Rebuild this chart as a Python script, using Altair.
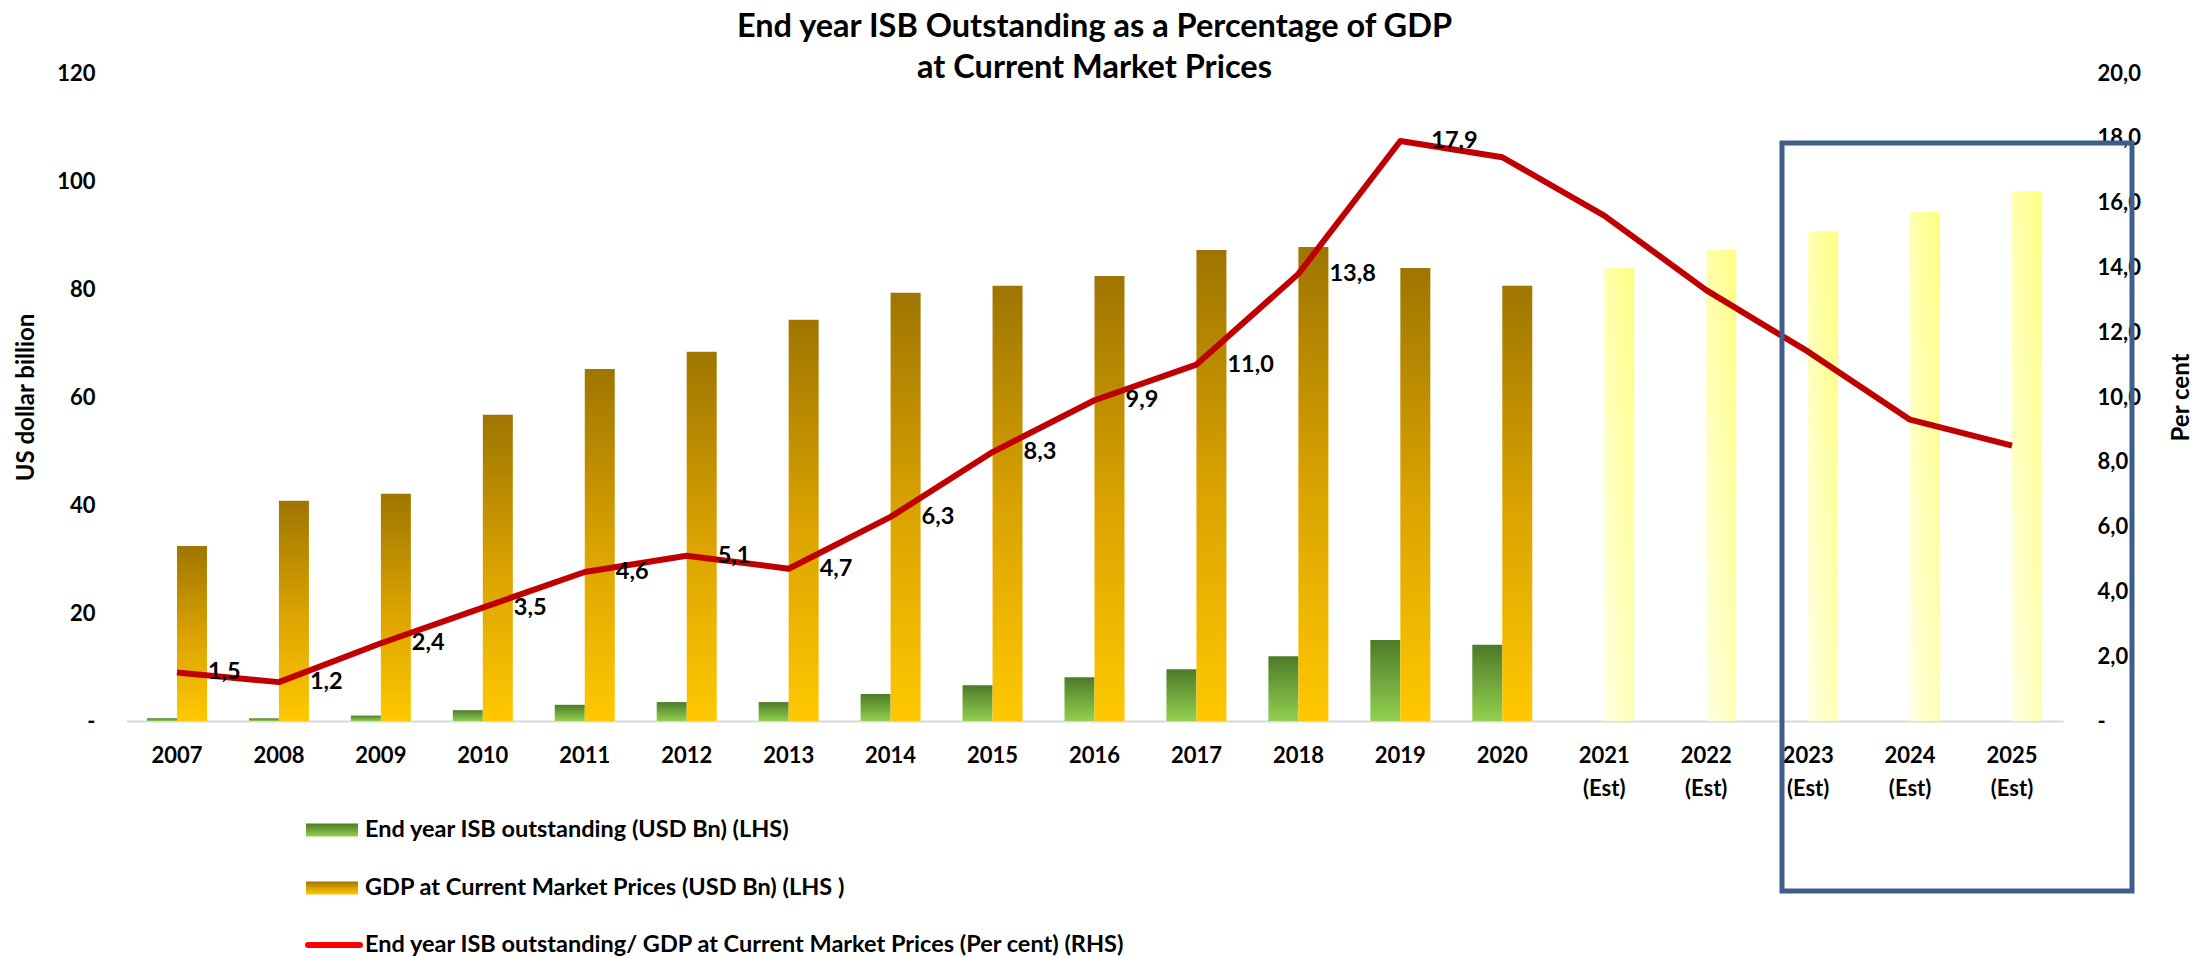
import altair as alt
import pandas as pd

# ---------------- data ----------------
YEARS = ["2007", "2008", "2009", "2010", "2011", "2012", "2013", "2014",
         "2015", "2016", "2017", "2018", "2019", "2020",
         "2021 (Est)", "2022 (Est)", "2023 (Est)", "2024 (Est)", "2025 (Est)"]
ACTUAL_YEARS = YEARS[:14]
EST_YEARS = YEARS[14:]

ISB_USD_BN = [0.5, 0.5, 1.0, 2.0, 3.0, 3.5, 3.5, 5.0, 6.6, 8.1, 9.6, 12.0, 15.0, 14.1]
GDP_USD_BN = [32.4, 40.8, 42.1, 56.7, 65.2, 68.4, 74.3, 79.3, 80.6, 82.4, 87.2, 87.8, 83.9, 80.6]
GDP_EST_USD_BN = [83.9, 87.2, 90.7, 94.3, 98.1]
ISB_PCT_GDP = [1.5, 1.2, 2.4, 3.5, 4.6, 5.1, 4.7, 6.3, 8.3, 9.9, 11.0, 13.8, 17.9,
               17.4, 15.6, 13.3, 11.4, 9.3, 8.5]
LABELLED_YEARS = YEARS[:13]

LEFT_TICKS = [0, 20, 40, 60, 80, 100, 120]
RIGHT_TICKS = [0, 2, 4, 6, 8, 10, 12, 14, 16, 18, 20]

TITLE = ["End year ISB Outstanding as a Percentage of GDP", "at Current Market Prices"]
LEGEND_LABELS = [
    "End year ISB outstanding (USD Bn) (LHS)",
    "GDP at Current Market Prices (USD Bn) (LHS )",
    "End year ISB outstanding/ GDP at Current Market Prices (Per cent) (RHS)",
]

# ---------------- styles ----------------
FONT = "Lato"
W, H = 1937, 648
BAR_W = 30

green_grad = alt.LinearGradient(gradient="linear", x1=0, x2=0, y1=0, y2=1,
                                stops=[alt.GradientStop(color="#4E7B28", offset=0),
                                       alt.GradientStop(color="#92D050", offset=1)])
gold_grad = alt.LinearGradient(gradient="linear", x1=0, x2=0, y1=0, y2=1,
                               stops=[alt.GradientStop(color="#9E7500", offset=0),
                                      alt.GradientStop(color="#D9A200", offset=0.5),
                                      alt.GradientStop(color="#FFC800", offset=1)])
yellow_grad = alt.LinearGradient(gradient="linear", x1=1, x2=0, y1=0, y2=1,
                                 stops=[alt.GradientStop(color="#FFFF80", offset=0),
                                        alt.GradientStop(color="#FFFFE6", offset=1)])

actual = pd.DataFrame({"year": ACTUAL_YEARS, "isb": ISB_USD_BN, "gdp": GDP_USD_BN})
est = pd.DataFrame({"year": EST_YEARS, "gdp": GDP_EST_USD_BN})
ratio = pd.DataFrame({"year": YEARS, "pct": ISB_PCT_GDP})
ratio["show"] = ratio["year"].isin(LABELLED_YEARS)

x_axis = alt.Axis(title=None, labelFont=FONT, labelFontWeight="bold", labelFontSize=22,
                  labelColor="black", labelAngle=0, ticks=False, tickSize=0,
                  labelPadding=24, labelLineHeight=33,
                  labelExpr="split(datum.label, ' ')",
                  domainColor="#D9D9D9", domainWidth=2, grid=False)
X = alt.X("year:N", sort=YEARS,
          scale=alt.Scale(domain=YEARS, paddingInner=0, paddingOuter=0),
          axis=x_axis)


def y_left(field):
    return alt.Y(f"{field}:Q", scale=alt.Scale(domain=[0, 120], nice=False),
                 axis=alt.Axis(values=LEFT_TICKS, title="US dollar billion",
                               labelExpr="datum.value == 0 ? '-' : datum.label",
                               labelFont=FONT, labelFontWeight="bold", labelFontSize=22,
                               labelColor="black", labelPadding=31,
                               domain=False, ticks=False, tickSize=0, grid=False,
                               titleFont=FONT, titleFontWeight="bold", titleFontSize=24,
                               titleColor="black", titleAngle=270, titleAlign="center",
                               titleBaseline="middle", titleX=-100, titleY=H / 2))


def y_right(field):
    return alt.Y(f"{field}:Q", scale=alt.Scale(domain=[0, 20], nice=False),
                 axis=alt.Axis(orient="right", values=RIGHT_TICKS, title="Per cent",
                               labelExpr="datum.value == 0 ? '-' : replace(format(datum.value, '.1f'), '.', ',')",
                               labelFont=FONT, labelFontWeight="bold", labelFontSize=22,
                               labelColor="black", labelPadding=34,
                               domain=False, ticks=False, tickSize=0, grid=False,
                               titleFont=FONT, titleFontWeight="bold", titleFontSize=24,
                               titleColor="black", titleAngle=270, titleAlign="center",
                               titleBaseline="middle", titleX=118, titleY=H / 2))


green = alt.Chart(actual).mark_bar(width=BAR_W, xOffset=-BAR_W / 2, fill=green_grad).encode(
    x=X, y=y_left("isb"))
gold = alt.Chart(actual).mark_bar(width=BAR_W, xOffset=BAR_W / 2, fill=gold_grad).encode(
    x=X, y=y_left("gdp"))
yellow = alt.Chart(est).mark_bar(width=BAR_W, xOffset=BAR_W / 2, fill=yellow_grad).encode(
    x=X, y=y_left("gdp"))

line = alt.Chart(ratio).mark_line(color="#C00000", strokeWidth=6, strokeJoin="round").encode(
    x=X, y=y_right("pct"))
labels = alt.Chart(ratio).transform_filter("datum.show").transform_calculate(
    txt="replace(format(datum.pct, '.1f'), '.', ',')"
).mark_text(align="left", baseline="middle", dx=31, font=FONT, fontWeight="bold",
            fontSize=23.5, color="black").encode(x=X, y=y_right("pct"), text="txt:N")

left = alt.layer(green, gold, yellow)
right = alt.layer(line, labels)

one = pd.DataFrame({"k": [0]})

# highlight box around the 2023-2025 estimates (annotation, pixel placed)
box = alt.Chart(one).mark_rect(fillOpacity=0, stroke="#3D5D8A", strokeWidth=5).encode(
    x=alt.value(1656), x2=alt.value(2006), y=alt.value(70), y2=alt.value(818))

# manual legend
LEG_ROWS = [757, 815, 872]
SYM_X0, SYM_X1, TXT_X = 180, 232, 239
legend_layers = []
for i, (lab, fill) in enumerate(zip(LEGEND_LABELS[:2], [green_grad, gold_grad])):
    legend_layers.append(
        alt.Chart(one).mark_rect(fill=fill).encode(
            x=alt.value(SYM_X0), x2=alt.value(SYM_X1),
            y=alt.value(LEG_ROWS[i] - 6.5), y2=alt.value(LEG_ROWS[i] + 6.5)))
legend_layers.append(
    alt.Chart(one).mark_rule(color="#FF0000", strokeWidth=6, strokeCap="round").encode(
        x=alt.value(SYM_X0 + 2), x2=alt.value(SYM_X1 + 2), y=alt.value(LEG_ROWS[2])))
for i, lab in enumerate(LEGEND_LABELS):
    legend_layers.append(
        alt.Chart(pd.DataFrame({"t": [lab]})).mark_text(
            align="left", baseline="middle", font=FONT, fontWeight="bold",
            fontSize=23.5, color="black").encode(
            x=alt.value(TXT_X), y=alt.value(LEG_ROWS[i]), text="t:N"))

chart = alt.layer(left, right, box, *legend_layers).resolve_scale(y="independent").properties(
    width=W, height=H,
    background="white",
    padding={"left": 126, "top": 73, "right": 144, "bottom": 237},
    autosize=alt.AutoSizeParams(type="none"),
    title=alt.Title(text=TITLE, font=FONT, fontWeight="bold", fontSize=32.5, color="black",
                    anchor="middle", lineHeight=41, offset=0, dy=22),
).configure_view(stroke="transparent", strokeWidth=0)

chart.save("out.html", embed_options={"renderer": "svg", "actions": False})
